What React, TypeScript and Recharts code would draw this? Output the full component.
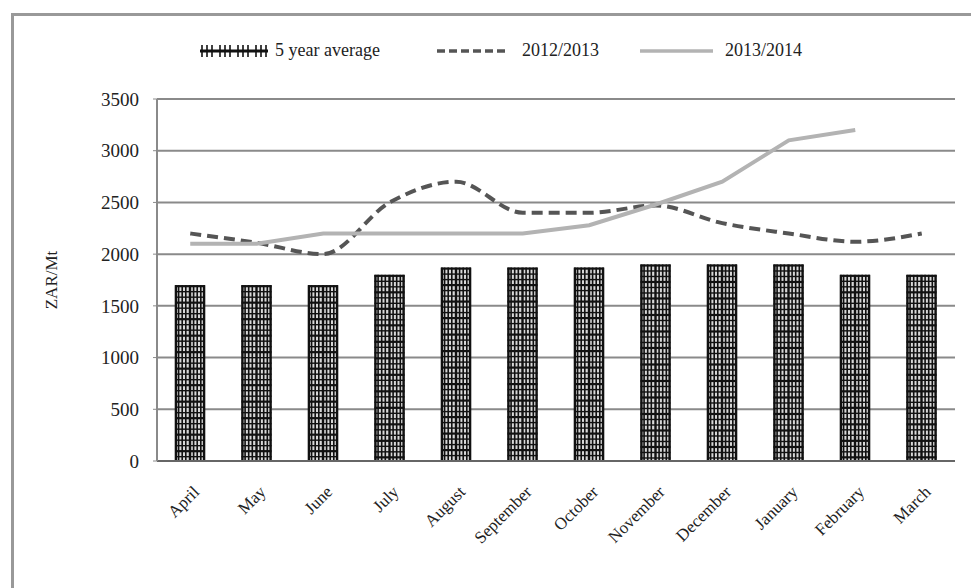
import React from 'react';
import { ComposedChart, Bar, Line, XAxis, YAxis, CartesianGrid } from 'recharts';

const months = ['April', 'May', 'June', 'July', 'August', 'September', 'October', 'November', 'December', 'January', 'February', 'March'];
const fiveYearAvg = [1700, 1700, 1700, 1800, 1870, 1870, 1870, 1900, 1900, 1900, 1800, 1800];
const season2012 = [2200, 2110, 2000, 2500, 2700, 2400, 2400, 2470, 2300, 2200, 2120, 2200];
const season2013: (number | null)[] = [2100, 2100, 2200, 2200, 2200, 2200, 2280, 2480, 2700, 3100, 3200, null];
const yTicks = [0, 500, 1000, 1500, 2000, 2500, 3000, 3500];

const data = months.map((m, i) => ({
  month: m,
  avg: fiveYearAvg[i],
  s2012: season2012[i],
  s2013: season2013[i],
}));

const FONT = '"Liberation Serif", "Times New Roman", serif';

const HatchBar = (props: any) => {
  const { x, y, width, height } = props;
  if (!height || height <= 0) return null;
  const vFracs = [0.03, 0.12, 0.24, 0.36, 0.5, 0.62, 0.74, 0.86, 0.97];
  const lines: React.ReactNode[] = [];
  vFracs.forEach((f, i) => {
    const xx = x + f * width;
    lines.push(
      <line key={'v' + i} x1={xx} x2={xx} y1={y} y2={y + height} stroke="#111" strokeWidth={i % 4 === 0 ? 2.4 : 1.6} />
    );
  });
  let k = 0;
  for (let yy = y + 1; yy < y + height; yy += 5.5) {
    lines.push(
      <line key={'h' + k} x1={x} x2={x + width} y1={yy} y2={yy} stroke="#111" strokeWidth={k % 3 === 0 ? 2.2 : 1.4} />
    );
    k++;
  }
  return (
    <g>
      <rect x={x} y={y} width={width} height={height} fill="#d8d8d8" />
      {lines}
    </g>
  );
};

const XTick = (props: any) => {
  const { x, y, payload } = props;
  return (
    <text
      x={x + 10}
      y={y + 32}
      textAnchor="end"
      transform={`rotate(-45 ${x + 10} ${y + 32})`}
      fontFamily={FONT}
      fontSize={17}
      fill="#222"
    >
      {payload.value}
    </text>
  );
};

const legendText: React.CSSProperties = {
  fontFamily: FONT,
  fontSize: 18,
  color: '#222',
  position: 'absolute',
  top: 39,
  lineHeight: '22px',
  whiteSpace: 'nowrap',
};

export default function App() {
  return (
    <div style={{ position: 'fixed', left: 0, top: 0, width: 971, height: 588, background: '#fff', overflow: 'hidden' }}>
      <div style={{ position: 'absolute', left: 11, top: 13, width: 3, height: 575, background: '#999' }} />
      <div style={{ position: 'absolute', left: 11, top: 13, width: 960, height: 3, background: '#999' }} />
      {/* legend */}
      <svg style={{ position: 'absolute', left: 198, top: 44 }} width={72} height={14}>
        <line x1={2} x2={70} y1={7} y2={7} stroke="#111" strokeWidth={3} />
        {[4, 9, 14, 22, 27, 32, 40, 45, 50, 58, 63, 68].map((v, i) => (
          <line key={i} x1={v} x2={v} y1={1} y2={13} stroke="#111" strokeWidth={1.6} />
        ))}
      </svg>
      <div style={{ ...legendText, left: 275 }}>5 year average</div>
      <svg style={{ position: 'absolute', left: 436, top: 44 }} width={74} height={14}>
        <line x1={1} x2={72} y1={7} y2={7} stroke="#555" strokeWidth={3.5} strokeDasharray="8 4" />
      </svg>
      <div style={{ ...legendText, left: 522 }}>2012/2013</div>
      <svg style={{ position: 'absolute', left: 639, top: 44 }} width={76} height={14}>
        <line x1={1} x2={74} y1={7} y2={7} stroke="#b3b3b3" strokeWidth={3.5} />
      </svg>
      <div style={{ ...legendText, left: 725 }}>2013/2014</div>

      <div style={{ position: 'absolute', left: 0, top: 0 }}>
        <ComposedChart
          width={971}
          height={588}
          data={data}
          margin={{ top: 99, right: 16, bottom: 27, left: 0 }}
        >
          <CartesianGrid vertical={false} stroke="#8a8a8a" strokeWidth={2} />
          <XAxis
            dataKey="month"
            interval={0}
            tickLine={false}
            tickSize={0}
            tickMargin={0}
            axisLine={{ stroke: '#666', strokeWidth: 2 }}
            height={100}
            tick={<XTick />}
          />
          <YAxis
            domain={[0, 3500]}
            ticks={yTicks}
            width={157}
            tickSize={4}
            tickMargin={14}
            axisLine={{ stroke: '#8a8a8a', strokeWidth: 2 }}
            tickLine={{ stroke: '#8a8a8a' }}
            tick={{ fontFamily: FONT, fontSize: 19, fill: '#222' }}
            label={{
              value: 'ZAR/Mt',
              angle: -90,
              position: 'insideLeft',
              offset: 51,
              style: { fontFamily: FONT, fontSize: 17, fill: '#222', textAnchor: 'middle' },
            }}
          />
          <Bar dataKey="avg" barSize={30} shape={<HatchBar />} isAnimationActive={false} />
          <Line
            type="monotone"
            dataKey="s2012"
            stroke="#555"
            strokeWidth={4}
            strokeDasharray="11 6"
            dot={false}
            isAnimationActive={false}
          />
          <Line
            type="linear"
            dataKey="s2013"
            stroke="#b3b3b3"
            strokeWidth={4}
            dot={false}
            connectNulls={false}
            isAnimationActive={false}
          />
        </ComposedChart>
      </div>
    </div>
  );
}
